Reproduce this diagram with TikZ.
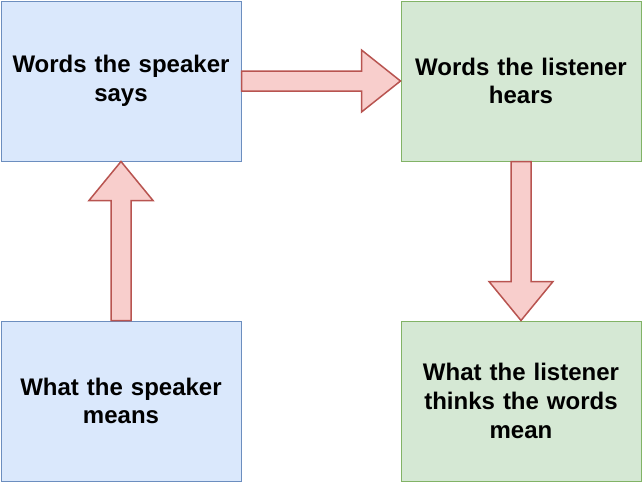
\documentclass[tikz,border=0pt]{standalone}
\usepackage{fontspec}
\setmainfont{Liberation Sans}
\usetikzlibrary{calc}
\definecolor{bluefill}{HTML}{DAE8FC}
\definecolor{bluedraw}{HTML}{6C8EBF}
\definecolor{greenfill}{HTML}{D5E8D4}
\definecolor{greendraw}{HTML}{82B366}
\definecolor{redfill}{HTML}{F8CECC}
\definecolor{reddraw}{HTML}{B85450}
\tikzset{
  box/.style={rectangle, minimum width=240pt, minimum height=160pt, line width=1pt,
    inner sep=0pt, text width=225pt, align=center,
    font=\fontsize{24pt}{28.8pt}\selectfont\bfseries},
  bluebox/.style={box, fill=bluefill, draw=bluedraw},
  greenbox/.style={box, fill=greenfill, draw=greendraw},
  fatarrow/.style={fill=redfill, draw=reddraw, line width=1.5pt, line join=miter}
}
\begin{document}
\begin{tikzpicture}[x=1pt,y=-1pt]
\useasboundingbox (0,0) rectangle (642,482);
\node[bluebox] (tl) at (121,81) {Words the speaker\\says};
\node[greenbox] (tr) at (521,81) {Words the listener\\hears};
\node[bluebox] (bl) at (121,401) {What the speaker\\means};
\node[greenbox] (br) at (521,401) {What the listener\\thinks the words\\mean};
% horizontal arrow tl -> tr
\draw[fatarrow] ([yshift=10pt]tl.east) -- ([xshift=-39pt,yshift=10pt]tr.west)
  -- ([xshift=-39pt,yshift=31pt]tr.west) -- (tr.west)
  -- ([xshift=-39pt,yshift=-31pt]tr.west) -- ([xshift=-39pt,yshift=-10pt]tr.west)
  -- ([yshift=-10pt]tl.east) -- cycle;
% vertical arrow bl -> tl
\draw[fatarrow] ([xshift=-10pt]bl.north) -- ([xshift=-10pt,yshift=-39pt]tl.south)
  -- ([xshift=-32pt,yshift=-39pt]tl.south) -- (tl.south)
  -- ([xshift=32pt,yshift=-39pt]tl.south) -- ([xshift=10pt,yshift=-39pt]tl.south)
  -- ([xshift=10pt]bl.north) -- cycle;
% vertical arrow tr -> br
\draw[fatarrow] ([xshift=-10pt]tr.south) -- ([xshift=-10pt,yshift=39pt]br.north)
  -- ([xshift=-32pt,yshift=39pt]br.north) -- (br.north)
  -- ([xshift=32pt,yshift=39pt]br.north) -- ([xshift=10pt,yshift=39pt]br.north)
  -- ([xshift=10pt]tr.south) -- cycle;
\end{tikzpicture}
\end{document}
